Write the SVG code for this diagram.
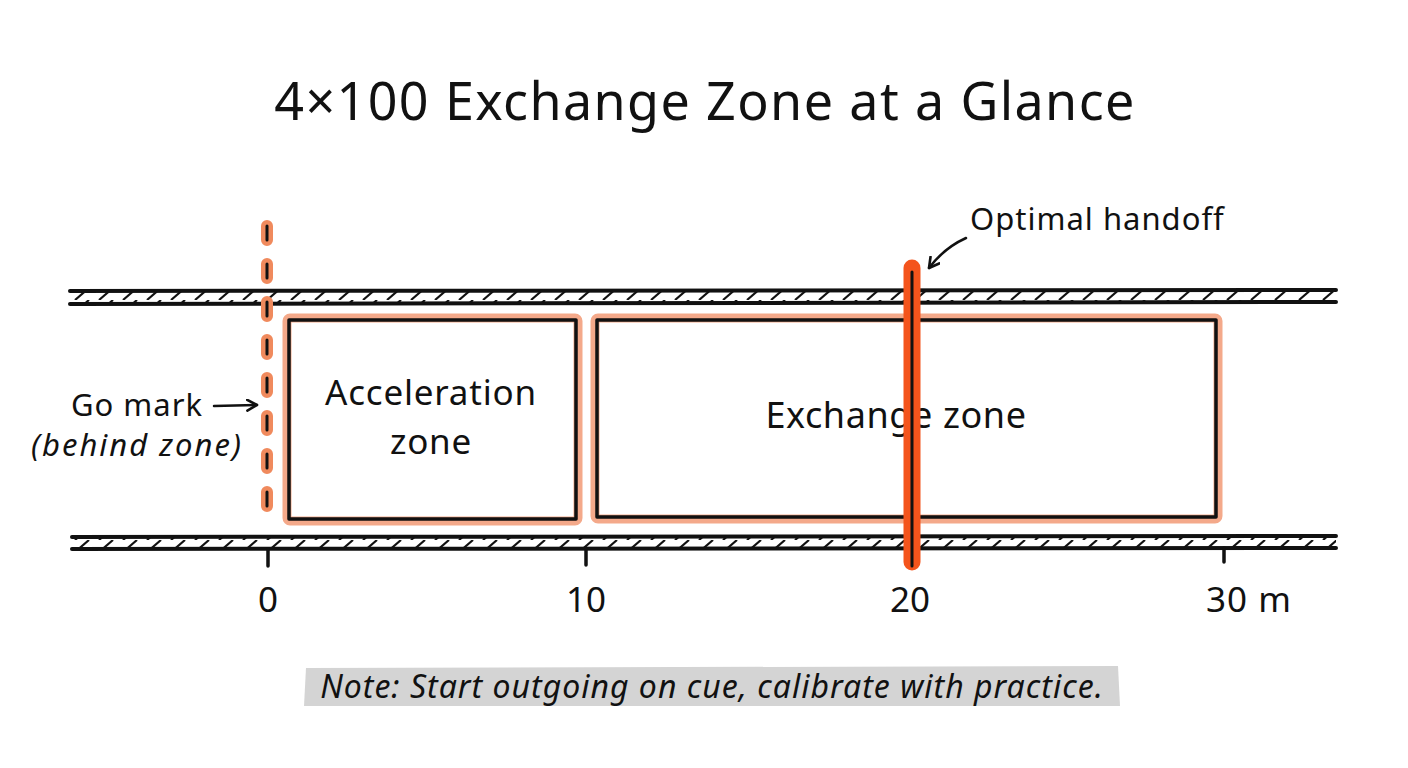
<svg xmlns="http://www.w3.org/2000/svg" width="1408" height="768" viewBox="0 0 1408 768">
<style>
.t{font-family:"Noto Sans","Liberation Sans",sans-serif;fill:#111}
.ink{stroke:#111;fill:none;stroke-linecap:round;stroke-linejoin:round}
.glow{stroke:#f4a98a;fill:none;stroke-linecap:round;stroke-linejoin:round}
</style>
<defs>
<pattern id="hatch" x="0" y="0" width="24" height="12" patternUnits="userSpaceOnUse">
<line x1="3" y1="12" x2="17" y2="0" stroke="#111" stroke-width="2.2"/>
</pattern>
<marker id="arr" viewBox="0 0 12 12" refX="10" refY="6" markerWidth="13" markerHeight="13" markerUnits="userSpaceOnUse" orient="auto">
<path d="M1,1 L10,6 L1,11" fill="none" stroke="#111" stroke-width="2.4" stroke-linecap="round" stroke-linejoin="round"/>
</marker>
</defs>
<rect width="1408" height="768" fill="#fff"/>

<text class="t" x="705" y="120" font-size="52" letter-spacing="1.4" text-anchor="middle">4×100 Exchange Zone at a Glance</text>

<g id="track-top">
<rect x="72" y="292" width="1264" height="11" fill="url(#hatch)"/>
<path class="ink" stroke-width="4" d="M70,291 L1336,290"/>
<path class="ink" stroke-width="4" d="M70,304 L1336,302"/>
</g>
<g id="track-bottom">
<rect x="74" y="538" width="1262" height="11" fill="url(#hatch)"/>
<path class="ink" stroke-width="4" d="M72,537 L1336,536"/>
<path class="ink" stroke-width="4" d="M72,549 L1336,548"/>
</g>

<g id="go-mark">
<path d="M267,226 V520" stroke="#f08a5d" stroke-width="12" stroke-linecap="round" stroke-dasharray="14,24" fill="none"/>
<path d="M267,226 V520" stroke="#111" stroke-width="3" stroke-linecap="round" stroke-dasharray="14,24" fill="none"/>
</g>

<g id="acceleration-zone">
<rect class="glow" x="287" y="318" width="291" height="203" rx="3" stroke-width="9"/>
<rect class="ink" x="289" y="320" width="287" height="199" stroke-width="3.5"/>
<text class="t" x="431" y="405" font-size="35" letter-spacing="0.8" text-anchor="middle">Acceleration</text>
<text class="t" x="431" y="454" font-size="35" letter-spacing="0.8" text-anchor="middle">zone</text>
</g>

<g id="exchange-zone">
<rect class="glow" x="595" y="318" width="623" height="201" rx="3" stroke-width="9"/>
<rect class="ink" x="597" y="320" width="619" height="197" stroke-width="3.5"/>
<text class="t" x="896" y="428" font-size="36" letter-spacing="0.6" text-anchor="middle">Exchange zone</text>
</g>

<g id="handoff-line">
<path d="M912,268 V562" stroke="#f4541c" stroke-width="17" stroke-linecap="round" fill="none"/>
<path d="M912,272 V566" stroke="#111" stroke-width="3" stroke-linecap="round" fill="none"/>
</g>

<g id="axis">
<path class="ink" stroke-width="3.5" d="M268,549 V566 M586,548 V565 M1224,548 V562"/>
<text class="t" x="268" y="612" font-size="35" text-anchor="middle">0</text>
<text class="t" x="586" y="612" font-size="35" text-anchor="middle">10</text>
<text class="t" x="910" y="612" font-size="35" text-anchor="middle">20</text>
<text class="t" x="1249" y="612" font-size="35" letter-spacing="1" text-anchor="middle">30 m</text>
</g>

<g id="labels">
<text class="t" x="203" y="416" font-size="31" letter-spacing="1" text-anchor="end">Go mark</text>
<text class="t" x="137" y="456" font-size="31" letter-spacing="2" text-anchor="middle" font-style="italic">(behind zone)</text>
<text class="t" x="970" y="230" font-size="31" letter-spacing="1">Optimal handoff</text>
</g>

<g id="connectors">
<path class="ink" stroke-width="2.5" d="M214,406 L257,405" marker-end="url(#arr)"/>
<path class="ink" stroke-width="2.5" d="M966,238 Q944,248 929,268" marker-end="url(#arr)"/>
</g>

<g id="note">
<path d="M306,668 L1118,666 L1120,706 L304,706 Z" fill="#d4d4d4"/>
<text class="t" x="712" y="698" font-size="32" letter-spacing="1" text-anchor="middle" font-style="italic">Note: Start outgoing on cue, calibrate with practice.</text>
</g>
</svg>
